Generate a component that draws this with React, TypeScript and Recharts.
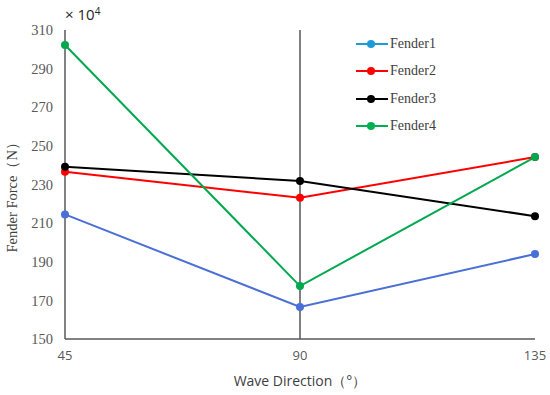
import React from "react";
import {
  LineChart,
  Line,
  XAxis,
  YAxis,
  ReferenceLine,
} from "recharts";

const directions = [45, 90, 135];
const fender1 = [214.5, 166.6, 194];
const fender2 = [236.6, 223.1, 244.2];
const fender3 = [239.2, 231.8, 213.6];
const fender4 = [302.2, 177.4, 244.2];
const yTicks = [150, 170, 190, 210, 230, 250, 270, 290, 310];
const seriesNames = ["Fender1", "Fender2", "Fender3", "Fender4"];
const lineColors = ["#4A6FD6", "#FF0000", "#000000", "#00A84F"];
const legendColors = ["#1E9BD7", "#FF0000", "#000000", "#00B050"];

const data = directions.map((d, i) => ({
  dir: d,
  Fender1: fender1[i],
  Fender2: fender2[i],
  Fender3: fender3[i],
  Fender4: fender4[i],
}));

const serif = "'Liberation Serif', 'DejaVu Serif', serif";
const sans = "'Open Sans', 'Liberation Sans', sans-serif";

const LegendBox = () => (
  <div style={{ position: "absolute", left: 356, top: 36, width: 180, height: 120 }}>
    {seriesNames.map((n, i) => (
      <div
        key={n}
        style={{
          position: "absolute",
          left: 0,
          top: i * 27.3,
          height: 16,
          display: "flex",
          alignItems: "center",
        }}
      >
        <svg width={32} height={16}>
          <line x1={0} y1={8} x2={32} y2={8} stroke={legendColors[i]} strokeWidth={2} />
          <circle cx={15} cy={8} r={4} fill={legendColors[i]} />
        </svg>
        <span
          style={{
            fontFamily: serif,
            fontSize: 14,
            color: "#404040",
            marginLeft: 2,
            lineHeight: "16px",
          }}
        >
          {n}
        </span>
      </div>
    ))}
  </div>
);

export default function App() {
  return (
    <div
      style={{
        position: "absolute",
        left: 0,
        top: 0,
        width: 550,
        height: 395,
        background: "#fff",
      }}
    >
      <LineChart
        width={550}
        height={395}
        data={data}
        margin={{ top: 30, right: 15, left: 0, bottom: 0 }}
      >
        <XAxis
          dataKey="dir"
          type="number"
          domain={[45, 135]}
          ticks={directions}
          tickLine={false}
          tickSize={0}
          tickMargin={12}
          height={56}
          axisLine={{ stroke: "#595959", strokeWidth: 1.5 }}
          tick={{ fontFamily: sans, fontSize: 13, fill: "#595959" }}
          label={{
            value: "Wave Direction（°）",
            position: "insideBottom",
            offset: 9,
            dx: 0,
            style: { fontFamily: sans, fontSize: 14, fill: "#404040" },
          }}
        />
        <XAxis
          xAxisId="top"
          orientation="top"
          dataKey="dir"
          type="number"
          domain={[45, 135]}
          tick={false}
          tickLine={false}
          height={0}
          axisLine={{ stroke: "#595959", strokeWidth: 1.5 }}
        />
        <YAxis
          type="number"
          domain={[150, 310]}
          ticks={yTicks}
          width={65}
          tickLine={false}
          tickSize={0}
          tickMargin={12}
          axisLine={{ stroke: "#595959", strokeWidth: 1.5 }}
          tick={{ fontFamily: serif, fontSize: 14.5, fill: "#595959" }}
          label={{
            value: "Fender Force（N）",
            angle: -90,
            position: "insideLeft",
            offset: 12,
            dy: 68,
            style: { fontFamily: serif, fontSize: 14.5, fill: "#404040" },
          }}
        />
        <YAxis
          yAxisId="right"
          orientation="right"
          type="number"
          domain={[150, 310]}
          tick={false}
          tickLine={false}
          width={0}
          axisLine={{ stroke: "#595959", strokeWidth: 1.5 }}
        />
        <ReferenceLine x={90} stroke="#000" strokeWidth={1} />
        {seriesNames.map((n, i) => (
          <Line
            key={n}
            dataKey={n}
            stroke={lineColors[i]}
            strokeWidth={2}
            dot={{ r: 4, fill: lineColors[i], stroke: lineColors[i], strokeWidth: 0 }}
            isAnimationActive={false}
          />
        ))}
      </LineChart>
      <LegendBox />
      <div
        style={{
          position: "absolute",
          left: 65,
          top: 2,
          fontFamily: sans,
          fontSize: 15,
          color: "#262626",
          lineHeight: "18px",
        }}
      >
        × 10<sup style={{ fontSize: 10, verticalAlign: "5px" }}>4</sup>
      </div>
    </div>
  );
}
